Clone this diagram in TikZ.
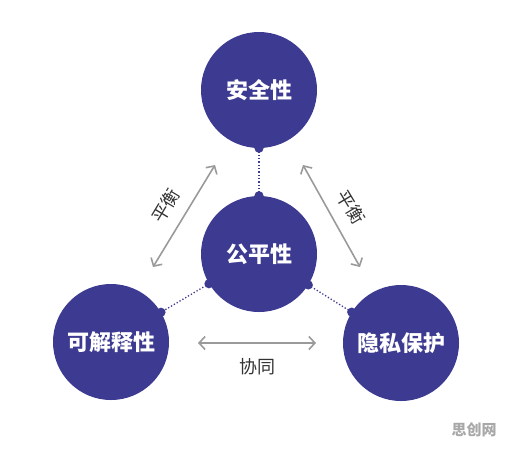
\documentclass[tikz,border=0pt]{standalone}
\usepackage{fontspec}
\usepackage{tikz}
\usepackage{xcolor}
\usetikzlibrary{arrows.meta, positioning, calc}
\newfontfamily\cjk{Noto Sans CJK SC}
\definecolor{Circ_Blue}{HTML}{3D3B91}
\definecolor{Arr_Gray}{HTML}{9A9A9A}
\definecolor{Txt_Dark}{HTML}{333333}
\definecolor{Mark_Gray}{HTML}{A8A8A8}

\begin{document}
\begin{tikzpicture}[x=1pt, y=-1pt,
  prop/.style={circle, fill=Circ_Blue, minimum size=116pt, inner sep=0pt,
    text=white, font=\cjk\bfseries\fontsize{22}{26}\selectfont},
  link/.style={dotted, line width=1.3pt, Circ_Blue},
  dot/.style={Circ_Blue},
  rel/.style={{Straight Barb[length=6pt, width=13pt]}-{Straight Barb[length=6pt, width=13pt]},
    line width=1.6pt, Arr_Gray},
  lab/.style={text=Txt_Dark, inner sep=1pt, font=\cjk\fontsize{18}{21}\selectfont}]
\useasboundingbox (0,0) rectangle (519,448);
% Circles
\node[prop] (safe) at (259,90) {安全性};
\node[prop] (fair) at (259,254) {公平性};
\node[prop] (expl) at (111,342) {可解释性};
\node[prop] (priv) at (401,343) {隐私保护};
% Dotted links with end dots
\foreach \a/\b in {safe/fair, fair/expl, fair/priv} {
  \draw[link] (\a) -- coordinate[pos=0] (\a-\b-s) coordinate[pos=1] (\a-\b-e) (\b);
  \fill[dot] (\a-\b-s) circle (4.6pt);
  \fill[dot] (\a-\b-e) circle (4.6pt);
}
% Relation arrows
\coordinate (la) at (153,267);
\coordinate (lb) at (215,165);
\coordinate (ra) at (303,165);
\coordinate (rb) at (360,267);
\coordinate (ba) at (198,343);
\coordinate (bb) at (316,343);
\draw[rel] (la) -- (lb);
\draw[rel] (ra) -- (rb);
\draw[rel] (ba) -- (bb);
% Labels
\node[lab, rotate=59] (balL) at (166,206) {平衡};
\node[lab, rotate=-59] (balR) at (351,207) {平衡};
\node[lab] (coop) at (257,367) {协同};
\node[font=\cjk\bfseries\fontsize{15}{18}\selectfont, text=Mark_Gray] (mark) at (474,430) {思创网};
\end{tikzpicture}
\end{document}
